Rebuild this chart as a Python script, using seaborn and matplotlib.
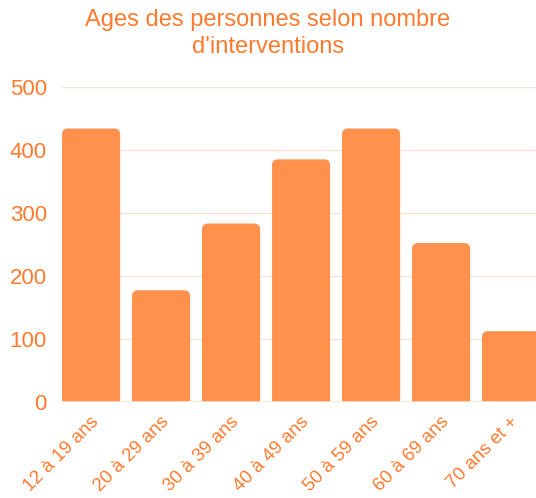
import matplotlib
matplotlib.use("Agg")
import matplotlib.pyplot as plt
import matplotlib.transforms as mtransforms
import seaborn as sns
from matplotlib.patches import FancyBboxPatch

categories = ["12 à 19 ans", "20 à 29 ans", "30 à 39 ans", "40 à 49 ans",
              "50 à 59 ans", "60 à 69 ans", "70 ans et +"]
counts = [434, 177, 283, 385, 434, 252, 112]
yticks = [0, 100, 200, 300, 400, 500]

bar_color = "#FF914D"
text_color = "#FF7A2F"
grid_color = "#FDE3D2"

sns.set_style("white")
plt.rcParams['font.family'] = ['Liberation Sans', 'DejaVu Sans']

fig = plt.figure(figsize=(5.36, 4.98), dpi=100)
ax = fig.add_axes([0.1157, 0.1934, 0.8843, 0.632])

sns.barplot(x=categories, y=counts, color=bar_color, width=0.83,
            saturation=1, ax=ax, zorder=3)

# rounded tops: swap each rectangle for a rounded box sunk below zero
for p in list(ax.patches):
    x, w, h = p.get_x(), p.get_width(), p.get_height()
    rb = FancyBboxPatch((x, -20), w, h + 20,
                        boxstyle="round,pad=0,rounding_size=0.085",
                        mutation_aspect=111, facecolor=bar_color,
                        edgecolor="none", zorder=3)
    p.remove()
    ax.add_patch(rb)

ax.set_xlim(-0.415, 6.356)
ax.set_ylim(0, 500)
ax.set_yticks(yticks)
ax.yaxis.grid(True, color=grid_color, linewidth=1, zorder=0)
ax.axhline(0, color=grid_color, linewidth=1.2, zorder=4)
for s in ax.spines.values():
    s.set_visible(False)

ax.tick_params(axis="y", length=0, pad=11, labelsize=16, labelcolor=text_color)
ax.tick_params(axis="x", length=0, pad=13, labelsize=13.5, labelcolor=text_color)
shift = mtransforms.ScaledTranslation(5 / 100, 0, fig.dpi_scale_trans)
for lbl in ax.get_xticklabels():
    lbl.set_rotation(45)
    lbl.set_ha("right")
    lbl.set_va("center")
    lbl.set_rotation_mode("anchor")
    lbl.set_transform(lbl.get_transform() + shift)
ax.set_xlabel("")
ax.set_ylabel("")

fig.text(0.5, 0.932, "Ages des personnes selon nombre\nd'interventions",
         ha="center", va="center", color=text_color, fontsize=17,
         linespacing=1.3)

fig.savefig("out.png", dpi=100)
